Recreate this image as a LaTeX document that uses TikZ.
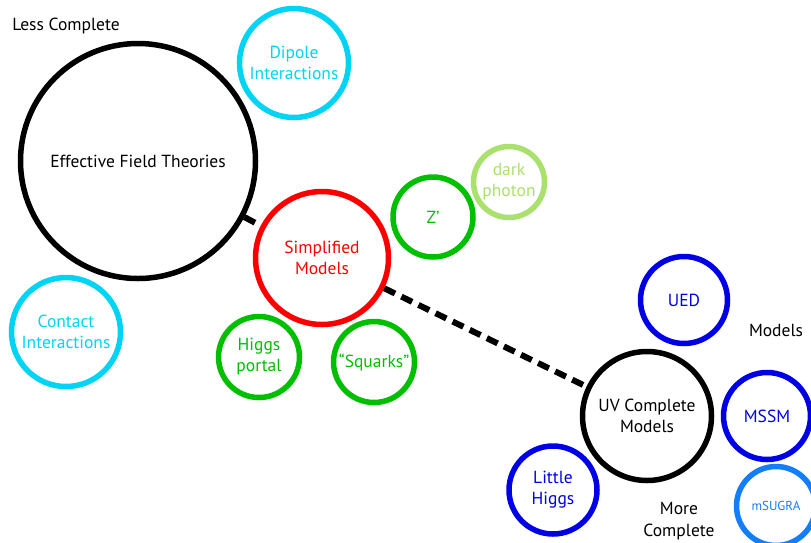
\documentclass[tikz,border=0pt]{standalone}
\usepackage{fontspec}
\setmainfont{PT Sans}
\definecolor{cyanc}{RGB}{0,212,245}
\definecolor{redc}{RGB}{250,0,0}
\definecolor{greenc}{RGB}{0,190,0}
\definecolor{lgreenc}{RGB}{170,225,110}
\definecolor{bluec}{RGB}{0,0,230}
\definecolor{lbluec}{RGB}{20,125,250}
\begin{document}
\begin{tikzpicture}[x=1pt,y=-1pt,
  bub/.style={circle,draw,line width=5.5pt,inner sep=0pt,align=center,
    font=\fontsize{17.5}{21}\selectfont},
  lbl/.style={align=center,font=\fontsize{17.5}{22}\selectfont},
  dashline/.style={line width=6pt,dash pattern=on 12pt off 7pt}]
\useasboundingbox (0,0) rectangle (811,542);
\clip (0,0) rectangle (811,542);
\node[bub,black,minimum size=235pt] (eft) at (138,161) {Effective Field Theories};
\node[bub,cyanc,minimum size=109pt] (dip) at (294,63) {Dipole\\Interactions};
\node[bub,cyanc,minimum size=109pt] (con) at (66,332) {Contact\\Interactions};
\node[bub,redc,minimum size=133pt] (sm) at (322,258) {Simplified\\Models};
\node[bub,greenc,minimum size=80pt] (zp) at (433,217) {Z’};
\node[bub,lgreenc,minimum size=71pt] (dp) at (509,182) {dark\\photon};
\node[bub,greenc,minimum size=81pt] (hp) at (259,357) {Higgs\\portal};
\node[bub,greenc,minimum size=81pt] (sq) at (374,362) {“Squarks”};
\node[bub,bluec,minimum size=87pt] (ued) at (684,300) {UED};
\node[bub,black,minimum size=129pt] (uv) at (647,416) {UV Complete\\Models};
\node[bub,bluec,minimum size=87pt] (mssm) at (767,416) {MSSM};
\node[bub,bluec,minimum size=88pt] (lh) at (553,490) {Little\\Higgs};
\node[bub,lbluec,minimum size=79pt,font=\fontsize{13}{15}\selectfont] (msu) at (776,506) {mSUGRA};
\node[lbl] (less) at (66,26) {Less Complete};
\node[lbl] (mod) at (776,330) {Models};
\node[lbl] (more) at (679,521) {More\\Complete};
\draw[dashline] (eft) -- (sm);
\draw[dashline] (sm) -- (uv);
\end{tikzpicture}
\end{document}
